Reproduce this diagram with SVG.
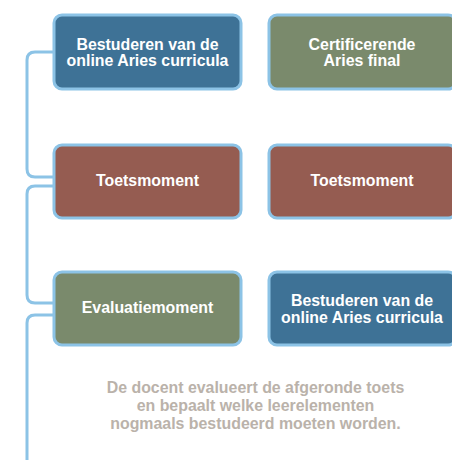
<svg xmlns="http://www.w3.org/2000/svg" width="452" height="460" viewBox="0 0 452 460">
<style>
.box{stroke:#8cc3e6;stroke-width:3}
.blue{fill:#3e7296}
.green{fill:#7a8a6c}
.red{fill:#955c51}
.t{font-family:"Liberation Sans",Arial,sans-serif;font-weight:bold;font-size:15.9px;fill:#ffffff;text-anchor:middle}
.note{font-family:"Liberation Sans",Arial,sans-serif;font-weight:bold;font-size:15.9px;fill:#bab2aa;text-anchor:middle}
.c{fill:none;stroke:#8cc3e6;stroke-width:3}
</style>
<rect width="452" height="460" fill="#ffffff"/>
<g id="connectors">
<path class="c" d="M54,52 H35 Q27,52 27,60 V169 Q27,177 35,177 H54"/>
<path class="c" d="M54,186 H35 Q27,186 27,194 V295 Q27,303 35,303 H54"/>
<path class="c" d="M54,315 H35 Q27,315 27,323 V460"/>
</g>
<g id="n1">
<rect class="box blue" x="54" y="15" width="187" height="74" rx="8"/>
<text class="t" x="147.5" y="50">Bestuderen van de</text>
<text class="t" x="147.5" y="66">online Aries curricula</text>
</g>
<g id="n2">
<rect class="box green" x="269" y="15" width="187" height="74" rx="8"/>
<text class="t" x="362" y="50">Certificerende</text>
<text class="t" x="362" y="66">Aries final</text>
</g>
<g id="n3">
<rect class="box red" x="54" y="145" width="187" height="73" rx="8"/>
<text class="t" x="147.5" y="186">Toetsmoment</text>
</g>
<g id="n4">
<rect class="box red" x="269" y="145" width="187" height="73" rx="8"/>
<text class="t" x="362" y="186">Toetsmoment</text>
</g>
<g id="n5">
<rect class="box green" x="54" y="272" width="187" height="73" rx="8"/>
<text class="t" x="147.5" y="313">Evaluatiemoment</text>
</g>
<g id="n6">
<rect class="box blue" x="269" y="272" width="187" height="73" rx="8"/>
<text class="t" x="362" y="306">Bestuderen van de</text>
<text class="t" x="362" y="323">online Aries curricula</text>
</g>
<g id="note">
<text class="note" x="255.5" y="393">De docent evalueert de afgeronde toets</text>
<text class="note" x="255.5" y="411">en bepaalt welke leerelementen</text>
<text class="note" x="255.5" y="429">nogmaals bestudeerd moeten worden.</text>
</g>
</svg>
